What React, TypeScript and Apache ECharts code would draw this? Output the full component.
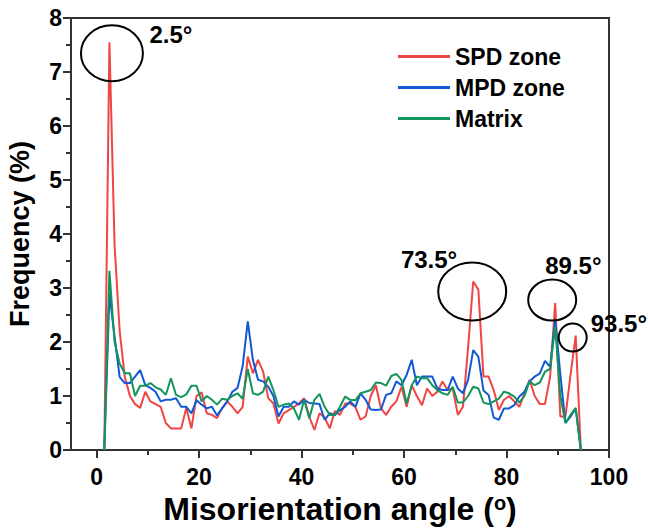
import React, { useEffect, useRef } from "react";
import * as echarts from "echarts";

// Misorientation angle bins (degrees)
const angles = [
  1.5, 2.5, 3.5, 4.5, 5.5, 6.5, 7.5, 8.5, 9.5, 10.5, 11.5, 12.5, 13.5, 14.5, 15.5, 16.5, 17.5, 18.5, 19.5, 20.5,
  21.5, 22.5, 23.5, 24.5, 25.5, 26.5, 27.5, 28.5, 29.5, 30.5, 31.5, 32.5, 33.5, 34.5, 35.5, 36.5, 37.5, 38.5, 39.5, 40.5,
  41.5, 42.5, 43.5, 44.5, 45.5, 46.5, 47.5, 48.5, 49.5, 50.5, 51.5, 52.5, 53.5, 54.5, 55.5, 56.5, 57.5, 58.5, 59.5, 60.5,
  61.5, 62.5, 63.5, 64.5, 65.5, 66.5, 67.5, 68.5, 69.5, 70.5, 71.5, 72.5, 73.5, 74.5, 75.5, 76.5, 77.5, 78.5, 79.5, 80.5,
  81.5, 82.5, 83.5, 84.5, 85.5, 86.5, 87.5, 88.5, 89.5, 90.5, 91.5, 92.5, 93.5, 94.5,
];

// Frequency (%)
const spdZone = [
  0, 7.55, 3.8, 2.2, 1.35, 1.0, 0.85, 0.78, 1.08, 0.9, 0.85, 0.8, 0.5, 0.4, 0.4, 0.4, 0.78, 0.4, 1.0, 1.07,
  0.68, 0.65, 0.59, 0.78, 0.9, 0.8, 0.68, 0.8, 1.73, 1.42, 1.67, 1.45, 0.96, 0.86, 0.49, 0.68, 0.74, 0.8, 0.86, 0.96,
  0.62, 0.37, 0.68, 0.6, 0.4, 0.72, 0.65, 0.86, 0.86, 0.8, 0.56, 0.62, 1.0, 1.2, 0.77, 0.65, 0.8, 0.9, 1.17, 0.8,
  1.2, 1.0, 0.83, 1.14, 1.0, 1.08, 1.27, 1.11, 1.14, 0.65, 0.8, 1.9, 3.12, 2.97, 1.36, 1.36, 1.11, 0.74, 0.93, 1.0,
  0.9, 0.8, 1.05, 1.3, 1.0, 0.85, 0.85, 1.35, 2.72, 0.62, 0.62, 1.4, 2.12, 0,
];

const mpdZone = [
  0, 2.9, 2.1, 1.35, 1.24, 1.24, 1.36, 1.48, 1.2, 1.15, 1.08, 0.9, 0.93, 0.93, 0.96, 0.8, 0.8, 0.68, 0.92, 0.84,
  0.77, 0.8, 0.64, 0.77, 0.9, 1.08, 1.15, 1.55, 2.38, 1.67, 1.3, 1.27, 1.17, 1.0, 0.62, 0.8, 0.8, 0.9, 0.84, 0.93,
  0.87, 0.86, 0.85, 0.56, 0.68, 0.65, 0.74, 0.8, 0.9, 0.8, 1.05, 0.93, 0.75, 0.74, 0.75, 1.02, 1.05, 1.27, 1.2, 1.39,
  1.67, 1.2, 1.36, 1.36, 1.36, 1.14, 1.11, 1.11, 1.36, 1.14, 1.05, 1.3, 1.85, 1.73, 1.1, 1.02, 0.6, 0.56, 0.77, 0.77,
  0.83, 0.99, 1.08, 1.27, 1.36, 1.42, 1.65, 1.54, 2.42, 1.4, 0.5, 0.62, 0.77, 0,
];

const matrix = [
  0, 3.32, 2.0, 1.6, 1.42, 1.42, 1.0, 1.19, 1.19, 1.24, 1.16, 1.12, 1.02, 1.33, 1.02, 0.98, 1.03, 1.19, 1.19, 0.9,
  1.0, 0.93, 0.84, 0.95, 0.93, 1.0, 1.05, 0.95, 1.5, 1.05, 1.02, 1.08, 1.36, 1.11, 0.8, 0.84, 0.86, 0.77, 0.56, 0.93,
  0.59, 0.93, 1.04, 0.8, 0.65, 0.65, 0.8, 0.99, 0.93, 0.92, 1.05, 1.08, 1.11, 1.25, 1.24, 1.19, 1.37, 1.41, 1.3, 0.86,
  1.2, 1.36, 1.33, 1.33, 1.2, 1.11, 1.05, 1.02, 1.17, 0.88, 0.88, 1.0, 1.17, 1.14, 0.88, 0.85, 0.9, 0.95, 1.08, 1.05,
  0.99, 0.88, 1.0, 1.27, 1.2, 1.25, 1.45, 1.5, 2.28, 1.0, 0.5, 0.65, 0.78, 0,
];

const seriesNames = ["SPD zone", "MPD zone", "Matrix"];
const xMajorTicks = [0, 20, 40, 60, 80, 100];
const xMinorTicks = [10, 30, 50, 70, 90];

// Annotated peaks (angle, frequency of the SPD curve, label)
const peakAngles = [2.5, 73.5, 89.5, 93.5];
const peakValues = [7.55, 3.12, 2.72, 2.12];
const peakLabels = ["2.5°", "73.5°", "89.5°", "93.5°"];

// Annotation layout (pixel offsets from the peak point)
const annotLayout = [
  { ex: 2.5, ey: 11, rx: 31, ry: 28, tx: 40, ty: -8, align: "left" },
  { ex: -1, ey: 10, rx: 34, ry: 29, tx: -16, ty: -22, align: "right" },
  { ex: -3, ey: -3, rx: 24, ry: 20.5, tx: -10, ty: -38, align: "left" },
  { ex: -3, ey: 2, rx: 14, ry: 14, tx: 15, ty: -12, align: "left" },
];

const FONT = "'Liberation Sans', Arial, Helvetica, sans-serif";
const COLORS = ["#f04545", "#1259d4", "#14955a"];

export default function App() {
  const ref = useRef<HTMLDivElement>(null);

  useEffect(() => {
    if (!ref.current) return;
    const chart = echarts.init(ref.current, null, { renderer: "svg" });
    const zip = (ys: number[]) => angles.map((a, i) => [a, ys[i]]);
    const allSeries = [spdZone, mpdZone, matrix];

    chart.setOption({
      animation: false,
      backgroundColor: "#fff",
      textStyle: { fontFamily: FONT },
      grid: {
        left: 71,
        right: 39,
        top: 18,
        bottom: 82,
        containLabel: false,
        outerBoundsMode: "none",
        show: true,
        borderColor: "#333",
        borderWidth: 2,
        backgroundColor: "transparent",
      },
      legend: {
        data: seriesNames,
        orient: "vertical",
        left: 393,
        top: 40,
        icon: "rect",
        itemWidth: 52,
        itemHeight: 3,
        itemGap: 8,
        textStyle: { fontFamily: FONT, fontSize: 23, fontWeight: "bold", color: "#000" },
      },
      xAxis: [
        {
          type: "value",
          min: -5,
          max: 100,
          axisLine: { show: true, onZero: false, lineStyle: { color: "#333", width: 2 } },
          splitLine: { show: false },
          axisTick: {
            show: true,
            length: 8,
            lineStyle: { color: "#333", width: 2 },
            customValues: xMajorTicks,
          },
          axisLabel: {
            customValues: xMajorTicks,
            margin: 15,
            fontSize: 23,
            fontWeight: "bold",
            color: "#000",
            fontFamily: FONT,
          },
          name: "{a|Misorientation angle (}{s|o}{a|)}",
          nameLocation: "middle",
          nameGap: 43,
          nameMoveOverlap: false,
          nameTextStyle: {
            rich: {
              a: { fontSize: 32, fontWeight: "bold", color: "#000", fontFamily: FONT },
              s: { fontSize: 20, fontWeight: "bold", color: "#000", fontFamily: FONT, verticalAlign: "top" },
            },
          },
        },
        {
          type: "value",
          min: -5,
          max: 100,
          position: "bottom",
          axisLine: { show: false, onZero: false },
          splitLine: { show: false },
          axisLabel: { show: false },
          axisTick: {
            show: true,
            length: 5,
            lineStyle: { color: "#333", width: 2 },
            customValues: xMinorTicks,
          },
        },
      ],
      yAxis: {
        type: "value",
        min: 0,
        max: 8,
        interval: 1,
        axisLine: { show: true, onZero: false, lineStyle: { color: "#333", width: 2 } },
        splitLine: { show: false },
        axisTick: { show: true, length: 8, lineStyle: { color: "#333", width: 2 } },
        minorTick: { show: true, splitNumber: 2, length: 5, lineStyle: { color: "#333", width: 2 } },
        minorSplitLine: { show: false },
        axisLabel: {
          margin: 9,
          fontSize: 23,
          fontWeight: "bold",
          color: "#000",
          fontFamily: FONT,
        },
        name: "Frequency (%)",
        nameLocation: "middle",
        nameRotate: 90,
        nameGap: 38,
        nameMoveOverlap: false,
        nameTextStyle: { fontSize: 27, fontWeight: "bold", color: "#000", fontFamily: FONT },
      },
      series: allSeries.map((ys, i) => ({
        name: seriesNames[i],
        type: "line",
        xAxisIndex: 0,
        data: zip(ys),
        showSymbol: false,
        symbol: "none",
        lineStyle: { color: COLORS[i], width: 2 },
        itemStyle: { color: COLORS[i] },
        z: 2 + i,
      })),
    });

    const graphics: any[] = [];
    peakAngles.forEach((a, i) => {
      const pt = chart.convertToPixel({ gridIndex: 0 }, [a, peakValues[i]]) as number[];
      const L = annotLayout[i];
      graphics.push({
        type: "ellipse",
        shape: { cx: pt[0] + L.ex, cy: pt[1] + L.ey, rx: L.rx, ry: L.ry },
        style: { fill: "none", stroke: "#000", lineWidth: 2 },
        z: 10,
      });
      graphics.push({
        type: "text",
        x: pt[0] + L.tx,
        y: pt[1] + L.ty,
        style: {
          text: peakLabels[i],
          fill: "#000",
          font: `bold 24px ${FONT}`,
          textAlign: L.align,
          textVerticalAlign: "middle",
        },
        z: 10,
      });
    });
    chart.setOption({ graphic: graphics });

    return () => chart.dispose();
  }, []);

  return (
    <div
      ref={ref}
      style={{ position: "fixed", left: 0, top: 0, width: 648, height: 532 }}
    />
  );
}
